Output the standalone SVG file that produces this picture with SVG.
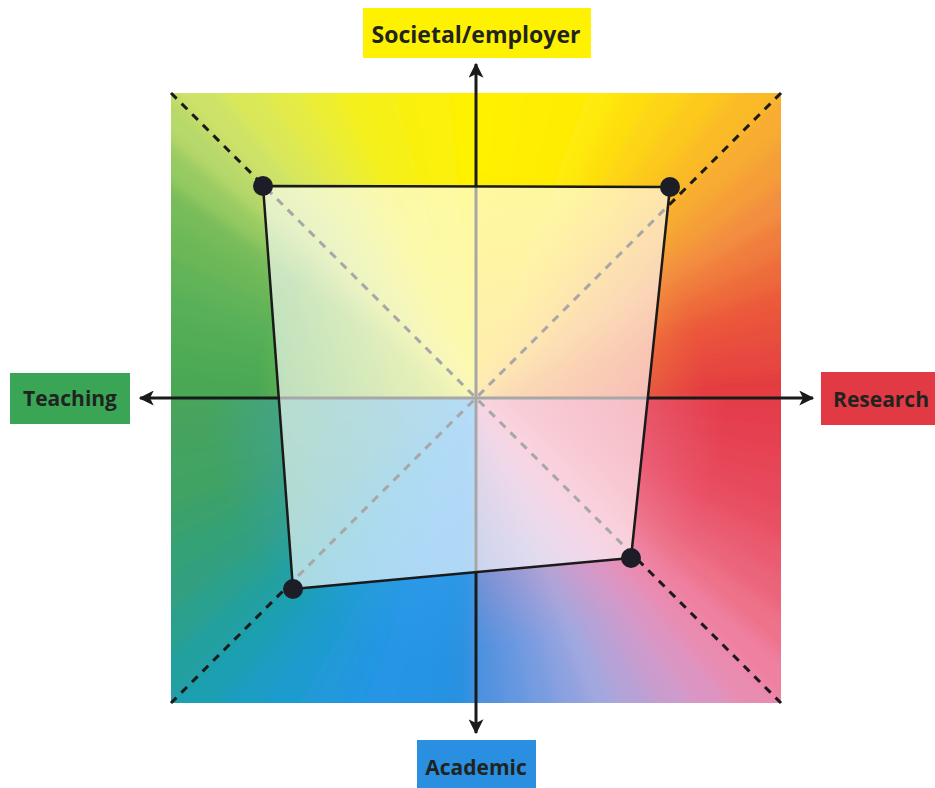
<svg xmlns="http://www.w3.org/2000/svg" width="935" height="788" viewBox="0 0 935 788">
  <style>
    .lbl { font-family: "Open Sans", "Liberation Sans", sans-serif; font-weight: 700; fill: #1f2420; text-anchor: middle; }
    .axis { stroke: #1a1a1a; stroke-width: 3; fill: none; }
    .diag { stroke: #1a1a1a; stroke-width: 3; stroke-dasharray: 8 7; fill: none; }
    .dot { fill: #1c1d26; }
  </style>
  <defs>
    <clipPath id="sq"><rect x="171" y="93" width="610" height="610"/></clipPath>
    <clipPath id="qTL"><rect x="171" y="93" width="305" height="305"/></clipPath>
    <clipPath id="qTR"><rect x="476" y="93" width="305" height="305"/></clipPath>
    <clipPath id="qBR"><rect x="476" y="398" width="305" height="305"/></clipPath>
    <clipPath id="qBL"><rect x="171" y="398" width="305" height="305"/></clipPath>
    <filter id="soft" x="-10%" y="-10%" width="120%" height="120%"><feGaussianBlur stdDeviation="7"/></filter>
    <path id="w" d="M0,0 L0,-500 L52.3,-497.3 Z"/>
    <radialGradient id="rTL" gradientUnits="userSpaceOnUse" cx="476" cy="398" r="220">
      <stop offset="0" stop-color="#f6ee3c" stop-opacity="0.85"/>
      <stop offset="1" stop-color="#f6ee3c" stop-opacity="0"/>
    </radialGradient>
    <radialGradient id="rTR" gradientUnits="userSpaceOnUse" cx="476" cy="398" r="230">
      <stop offset="0" stop-color="#fcc63c" stop-opacity="0.8"/>
      <stop offset="1" stop-color="#fcc63c" stop-opacity="0"/>
    </radialGradient>
    <radialGradient id="rBR" gradientUnits="userSpaceOnUse" cx="476" cy="398" r="250">
      <stop offset="0" stop-color="#f092b4" stop-opacity="0.85"/>
      <stop offset="1" stop-color="#f092b4" stop-opacity="0"/>
    </radialGradient>
    <radialGradient id="rBL" gradientUnits="userSpaceOnUse" cx="476" cy="398" r="270">
      <stop offset="0" stop-color="#3aa2ee" stop-opacity="0.95"/>
      <stop offset="1" stop-color="#3aa2ee" stop-opacity="0"/>
    </radialGradient>
    <marker id="ah" viewBox="0 0 12 12" refX="11" refY="6" markerWidth="5" markerHeight="5" orient="auto" markerUnits="strokeWidth">
      <path d="M0,0 L12,6 L0,12 L3,6 Z" fill="#1a1a1a"/>
    </marker>
  </defs>

  <g id="background" clip-path="url(#sq)">
    <g filter="url(#soft)">
      <g transform="translate(476,398)">
        <use href="#w" fill="#fff101" transform="rotate(0)"/>
        <use href="#w" fill="#ffef03" transform="rotate(5)"/>
        <use href="#w" fill="#ffee04" transform="rotate(10)"/>
        <use href="#w" fill="#ffec06" transform="rotate(15)"/>
        <use href="#w" fill="#ffea08" transform="rotate(20)"/>
        <use href="#w" fill="#fee00e" transform="rotate(25)"/>
        <use href="#w" fill="#fdd515" transform="rotate(30)"/>
        <use href="#w" fill="#fcc91d" transform="rotate(35)"/>
        <use href="#w" fill="#fabb27" transform="rotate(40)"/>
        <use href="#w" fill="#f8ac30" transform="rotate(45)"/>
        <use href="#w" fill="#f59e38" transform="rotate(50)"/>
        <use href="#w" fill="#f38e40" transform="rotate(55)"/>
        <use href="#w" fill="#f07c3d" transform="rotate(60)"/>
        <use href="#w" fill="#ed6a3b" transform="rotate(65)"/>
        <use href="#w" fill="#eb593a" transform="rotate(70)"/>
        <use href="#w" fill="#e9503c" transform="rotate(75)"/>
        <use href="#w" fill="#e6473f" transform="rotate(80)"/>
        <use href="#w" fill="#e43e41" transform="rotate(85)"/>
        <use href="#w" fill="#e43c4b" transform="rotate(90)"/>
        <use href="#w" fill="#e54050" transform="rotate(95)"/>
        <use href="#w" fill="#e64456" transform="rotate(100)"/>
        <use href="#w" fill="#e7485b" transform="rotate(105)"/>
        <use href="#w" fill="#e94f64" transform="rotate(110)"/>
        <use href="#w" fill="#ea5a6f" transform="rotate(115)"/>
        <use href="#w" fill="#eb657a" transform="rotate(120)"/>
        <use href="#w" fill="#ed728a" transform="rotate(125)"/>
        <use href="#w" fill="#ef80a0" transform="rotate(130)"/>
        <use href="#w" fill="#e98cb2" transform="rotate(135)"/>
        <use href="#w" fill="#dc95c3" transform="rotate(140)"/>
        <use href="#w" fill="#ca9cce" transform="rotate(145)"/>
        <use href="#w" fill="#b6a2d7" transform="rotate(150)"/>
        <use href="#w" fill="#a2a7df" transform="rotate(155)"/>
        <use href="#w" fill="#8da2e0" transform="rotate(160)"/>
        <use href="#w" fill="#789ce0" transform="rotate(165)"/>
        <use href="#w" fill="#6597e0" transform="rotate(170)"/>
        <use href="#w" fill="#5392df" transform="rotate(175)"/>
        <use href="#w" fill="#2991e1" transform="rotate(180)"/>
        <use href="#w" fill="#2892e2" transform="rotate(185)"/>
        <use href="#w" fill="#2694e4" transform="rotate(190)"/>
        <use href="#w" fill="#2595e5" transform="rotate(195)"/>
        <use href="#w" fill="#2397e1" transform="rotate(200)"/>
        <use href="#w" fill="#2099d8" transform="rotate(205)"/>
        <use href="#w" fill="#1e9bcf" transform="rotate(210)"/>
        <use href="#w" fill="#1d9dc3" transform="rotate(215)"/>
        <use href="#w" fill="#1f9fb1" transform="rotate(220)"/>
        <use href="#w" fill="#23a0a0" transform="rotate(225)"/>
        <use href="#w" fill="#2aa08f" transform="rotate(230)"/>
        <use href="#w" fill="#30a07f" transform="rotate(235)"/>
        <use href="#w" fill="#36a176" transform="rotate(240)"/>
        <use href="#w" fill="#3ba16c" transform="rotate(245)"/>
        <use href="#w" fill="#40a264" transform="rotate(250)"/>
        <use href="#w" fill="#42a362" transform="rotate(255)"/>
        <use href="#w" fill="#45a35f" transform="rotate(260)"/>
        <use href="#w" fill="#47a45d" transform="rotate(265)"/>
        <use href="#w" fill="#48a754" transform="rotate(270)"/>
        <use href="#w" fill="#4daa55" transform="rotate(275)"/>
        <use href="#w" fill="#53ad56" transform="rotate(280)"/>
        <use href="#w" fill="#58b058" transform="rotate(285)"/>
        <use href="#w" fill="#62b459" transform="rotate(290)"/>
        <use href="#w" fill="#6cb859" transform="rotate(295)"/>
        <use href="#w" fill="#77bc5a" transform="rotate(300)"/>
        <use href="#w" fill="#96ca62" transform="rotate(305)"/>
        <use href="#w" fill="#b7d86b" transform="rotate(310)"/>
        <use href="#w" fill="#cee268" transform="rotate(315)"/>
        <use href="#w" fill="#dae858" transform="rotate(320)"/>
        <use href="#w" fill="#e4eb46" transform="rotate(325)"/>
        <use href="#w" fill="#ecee32" transform="rotate(330)"/>
        <use href="#w" fill="#f4f01f" transform="rotate(335)"/>
        <use href="#w" fill="#f7f018" transform="rotate(340)"/>
        <use href="#w" fill="#f9f111" transform="rotate(345)"/>
        <use href="#w" fill="#fbf10a" transform="rotate(350)"/>
        <use href="#w" fill="#fef204" transform="rotate(355)"/>
      </g>
    </g>
    <rect x="171" y="93" width="305" height="305" fill="url(#rTL)" clip-path="url(#qTL)"/>
    <rect x="476" y="93" width="305" height="305" fill="url(#rTR)" clip-path="url(#qTR)"/>
    <rect x="476" y="398" width="305" height="305" fill="url(#rBR)" clip-path="url(#qBR)"/>
    <rect x="171" y="398" width="305" height="305" fill="url(#rBL)" clip-path="url(#qBL)"/>
  </g>

  <g id="connectors">
    <line class="diag" x1="171" y1="93" x2="781" y2="703"/>
    <line class="diag" x1="781" y1="93" x2="171" y2="703"/>
    <line class="axis" x1="476" y1="398" x2="476" y2="64" marker-end="url(#ah)"/>
    <line class="axis" x1="476" y1="398" x2="476" y2="733" marker-end="url(#ah)"/>
    <line class="axis" x1="476" y1="398" x2="140" y2="398" marker-end="url(#ah)"/>
    <line class="axis" x1="476" y1="398" x2="813" y2="398" marker-end="url(#ah)"/>
  </g>

  <g id="profile">
    <polygon points="263,186 670,187 631,558 293,589" fill="#ffffff" fill-opacity="0.62" stroke="#1a1a1a" stroke-width="2.5" stroke-linejoin="round"/>
  </g>

  <g id="point-tl"><circle class="dot" cx="263" cy="186" r="10"/></g>
  <g id="point-tr"><circle class="dot" cx="670" cy="187" r="10"/></g>
  <g id="point-br"><circle class="dot" cx="631" cy="558" r="10"/></g>
  <g id="point-bl"><circle class="dot" cx="293" cy="589" r="10"/></g>

  <g id="label-societal">
    <rect x="363" y="8" width="228" height="50" fill="#fff200"/>
    <text class="lbl" x="476" y="43" font-size="23">Societal/employer</text>
  </g>
  <g id="label-teaching">
    <rect x="10" y="373" width="120" height="51" fill="#3aa655"/>
    <text class="lbl" x="70" y="406" font-size="21">Teaching</text>
  </g>
  <g id="label-research">
    <rect x="821" y="372" width="114" height="53" fill="#e13a45"/>
    <text class="lbl" x="881" y="407" font-size="21">Research</text>
  </g>
  <g id="label-academic">
    <rect x="417" y="740" width="119" height="48" fill="#2a8fe0"/>
    <text class="lbl" x="476" y="775" font-size="21">Academic</text>
  </g>
</svg>
